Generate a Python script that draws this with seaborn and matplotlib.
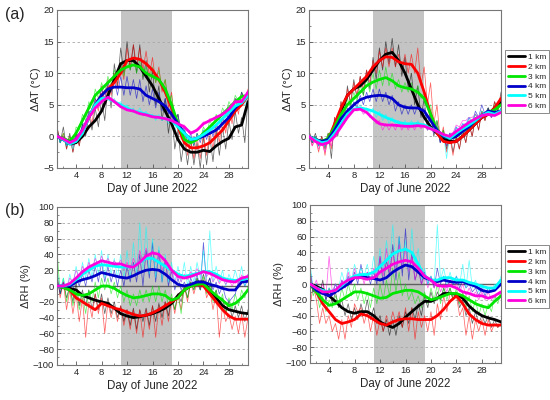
import numpy as np
import pandas as pd
import matplotlib
matplotlib.use('Agg')
import matplotlib.pyplot as plt
import seaborn as sns
from matplotlib.ticker import MultipleLocator
from matplotlib.lines import Line2D

sns.set_style('white')
plt.rcParams['font.family'] = ['Liberation Sans', 'DejaVu Sans']

levels = ['1 km', '2 km', '3 km', '4 km', '5 km', '6 km']
colors = ['#000000', '#ff0000', '#00e600', '#0000c8', '#00ffff', '#ff00dd']
days = list(range(1, 32))
xticks = [4, 8, 12, 16, 20, 24, 28]
shade_start, shade_end = 11, 19

# ---------------- (a) left : delta AT ----------------
atL_1 = [0,-0.5,-1.2,-1,0,1.5,2.5,4,6.5,9,11.5,12,12,11,9.5,8,6,4,2,-0.5,-2,-2.5,-2.5,-2.2,-2.4,-1.5,-0.8,-0.3,1.5,1.8,5.5]
atL_2 = [0,-0.3,-1,-0.5,0.5,3,5,6.5,7.5,8.5,10,12,12.4,12.2,11.5,10.5,9,7,4.5,1.5,-1,-1.8,-1.8,-1.5,-1,0,1,2.5,4,5,6.5]
atL_3 = [0,-0.3,-0.8,0.5,2.5,4.5,6.5,7.5,8.5,9.5,10.5,11,11.3,11,10,9.5,9,7.5,5,2,-0.5,-1,-0.5,0.5,1.5,2.5,3.5,4.5,5.5,6.3,6.5]
atL_4 = [0,-0.5,-1,-0.5,1,3,5,6.5,7.5,7.8,7.8,7.7,7.7,7.5,6.5,6,5.5,4.8,3.5,2,0.5,-0.5,-0.3,0,0.5,1,2,3,4.5,5.5,6.5]
atL_5 = [0,-0.5,-1.2,-0.8,0.5,3,5,6,6,5.5,5,4.5,4,3.8,3.5,3.2,3,2.8,2.5,1.5,0.5,-0.5,-0.3,0.3,1,1.8,2.8,3.8,4.8,5.3,6.5]
atL_6 = [0,-0.4,-1,-0.5,1,3,4.5,5.5,6.2,5.5,4.7,4.2,4,3.6,3.4,3.1,3,2.8,2.5,2,1.5,0.5,1,2,2.5,3,3.5,4.3,5.5,5.5,7]
atL_1r = [1.5,-1,1.5,-2,0.5,-2.5,0.5,-1.5,2,0,3.5,1,4.5,1.5,6,2.5,8,4.5,11.5,8,14,10,15,10.5,14.5,10,14.5,9,12,7,10.5,5,8,2.5,6,0.5,4,-2,1,-4,-0.5,-4.5,-0.5,-4.5,-1,-5,0,-4.5,0,-4,1,-3,1.5,-2,2.5,-0.5,4,0.5,3,-1,6]
atL_2r = [1.5,-1,0.5,-2,0,-2.5,0.5,-1.5,1.5,0.5,4,2,6,4,8,5,9,6.5,10,7.5,11.5,9,14,11,14.5,11,14,10.5,13.5,9.5,12.5,8.5,11,7,9,4.5,7,2,3.5,-0.5,1,-3,-0.5,-3.5,0,-3.5,0.5,-3,1,-2,2,-1,3,0.5,4.5,2,6,3.5,7,5.5,7.5]
atL_3r = [1,-1,0.5,-1.5,0,-1,1.5,1,3.5,2.5,5.5,4,7.5,6,8.5,7,9.5,8,10.5,9,11.5,9.5,12,10.5,12.5,10,12,9.5,11,9,11,8.5,10.5,7.5,9,5.5,6.5,3,3.5,0.5,1,-1.5,0,-1.5,0.5,-0.5,1.5,0.5,2.5,1.5,3.5,2.5,4.5,3.5,5.5,4.5,6.5,5.5,7,6,7]
atL_4r = [1,-1,0,-1.5,-0.5,-1.5,0.5,0,2,2,4,3.5,6,5,7.5,6,8.5,7,9,6.5,9.5,6.5,9.5,6.5,9,6,9,5.5,8,5,7.5,4.5,7,4,6,3.5,5,2,3.5,0.5,1.5,-1,0.5,-1.5,0.5,-1,1,-0.5,1.5,0,2,1,3,2,4,3.5,6,4.5,7,5.5,6.5]
atL_5r = [0.5,-1,0,-1.5,-1,-2,0,-0.5,1,1.5,3.5,3.5,5.5,5,6.5,5.5,6.5,5.5,6,5,5.5,4.5,5,4,4.5,3.5,4.5,3.5,4,3,3.5,2.5,3.5,2.5,3,2,2.5,1,2,0,1,-1,0,-1,0,-0.5,1,0.5,1.5,1,2,2,3,3,4,4,5,4.5,5.5,5,6.5]
atL_6r = [0.3,-0.5,0,-1,-0.8,-1.2,0,-0.5,1.3,1.5,3.3,3.5,4.8,4.5,5.8,5.5,6.5,6,5.8,5,5,4.4,4.5,4,4.3,3.7,3.9,3.3,3.6,3.2,3.3,2.8,3.2,2.7,3,2.5,2.8,2.2,2.3,1.8,1.8,1,0.8,0.5,1.2,1.5,2.3,2.2,2.8,2.7,3.2,3.2,3.8,3.9,4.6,5,5.8,5.2,5.8,6,7.3]

# ---------------- (a) right : delta AT ----------------
atR_1 = [0,-0.5,-0.8,-0.5,1.5,4,6.5,7.5,8,9,10.5,12,13,13.3,12,10,7.5,5,3,1.5,0.5,-0.3,-0.8,-0.8,0,1,2,3,3.5,4.5,5.5]
atR_2 = [0,-0.5,-0.8,-0.5,2,4.5,6.5,7.5,8.5,9.5,11,12,12.6,12.5,11.8,11.5,11.4,10,7,3.5,0.5,-0.8,-1,-0.8,0,1,2,3,3.5,4.5,6]
atR_3 = [0,-0.5,-0.8,-0.3,1.5,3.5,5,6,7,8,8.6,9,9.3,8.8,8,7.7,7.5,7,6,3.5,1,0,-0.3,0,0.8,1.5,2.5,3.3,3.8,4.2,5]
atR_4 = [0,-0.5,-0.8,-0.5,1,2.8,4,5,5.8,6.2,6.4,6.5,6.4,6,5,4.6,4.5,4.5,4,2.5,1,0,-0.3,0,0.8,1.5,2.5,3.3,4,3.8,4]
atR_5 = [0,-0.5,-1,-0.8,0.5,2,3.5,4.3,4.5,4.3,4,3.5,3,2.6,2.2,2,2,2,1.8,1.3,0.8,0.2,-0.3,0.5,1.2,1.8,2.5,3.3,3.8,3.5,4]
atR_6 = [0,-0.8,-1.3,-1,0,1.5,3,4.2,4.3,3.8,2.8,2,1.8,1.8,1.7,1.6,1.6,1.7,1.6,1.2,0.8,0.3,0,0.8,1.5,2.2,2.8,3.3,3.5,3.3,3.8]
atR_1r = [1,-1,0.5,-1.5,0,-2,0.5,-3.5,3,0,5.5,2.5,8,5,9,6,9.5,6.5,10.5,7.5,12.5,9,14,10.5,15,11.5,15.5,11,14.5,9.5,12.5,7.5,10,5,8,3,6,1,4,0,2.5,-1,1,-2,0.5,-2.5,0,-2,1,-1,2,0,3,1,4,2.5,4.5,3,5.5,4,7]
atR_2r = [1,-1.5,0,-2.5,0,-3,0.5,-2,3,1,5.5,3.5,7.5,5.5,8.5,6.5,9.5,7.5,10.5,8.5,12,10,13.5,11,14,11,14,11,13,10.5,13,10,13,10,14,8,11,5,8.5,2,5,-0.5,1.5,-2.5,0,-3,0,-2,1,-1,2,0,3,1,4,2.5,4.5,3,5.5,4,6.5]
atR_3r = [0.5,-1,0,-1.5,-0.5,-1,0.5,0,2.5,1.5,4.5,2.5,6,4.5,7,5.5,8,6.5,9,7,10,7.5,10.5,8,11,8,10,7.5,9,7,8.5,7,8.5,6.5,8,6,7,4.5,5,2,2.5,0,1,-1,0.5,-1,0.5,0,1.5,1,2.5,2,3.5,2.5,4,3.5,4.5,3.5,5,4,5.5]
atR_4r = [0.5,-1,0,-1.5,-0.5,-1.5,0,-0.5,1.5,1,3.5,2,4.5,3.5,5.5,4.5,6.5,5,7,5.5,7.5,5.5,7.5,5.5,7,5,6.5,4,5.5,3.5,5,3.5,5,3.5,5,3.5,4.5,2,3,0.5,1.5,-1,0.5,-1.5,0.5,-1,1.5,0.5,2,1.5,3,2,4,3,5,3.5,4.5,3,4.5,3.5,4.5]
atR_5r = [0.3,-0.8,0,-1.5,-0.5,-1.5,0,-0.3,1,1.5,2.5,3,4,4,5,4.5,5,4,4.5,3.5,4.5,3,4,2.5,3.5,2,3,2,2.5,1.5,2.5,1.5,2.5,1.5,2.5,1.5,2,1,1.5,0.5,1,0,0.5,-3.5,0.5,0.5,1.5,1,2,2,3,2.5,3.5,3,4,3.5,4,3,4,3.5,4.5]
atR_6r = [0.2,-1.5,-0.5,-2,-1,-2.5,-0.5,-1.5,0.5,0.5,2,2,3.5,3.5,4.5,4,4.5,3.5,4,3,3,2,2.5,1,2,1,2,1,2.3,1,2,1,2,1,2.2,1.2,2,1,1.5,0.5,1,0,0.5,-0.5,0.5,0.5,1.8,1.5,2.5,2.5,3,3,3.5,3,3.8,3,3.5,3,3.5,3.5,4]

# ---------------- (b) left : delta RH ----------------
rhL_1 = [0,-2,-3,-5,-12,-15,-18,-20,-22,-28,-35,-38,-40,-39,-37,-35,-32,-28,-22,-12,-5,0,5,5,-5,-15,-25,-30,-32,-34,-35]
rhL_2 = [0,-2,-5,-15,-20,-25,-30,-22,-25,-28,-30,-33,-36,-38,-37,-34,-30,-25,-20,-15,-5,0,2,0,-10,-20,-30,-38,-42,-42,-42]
rhL_3 = [0,-2,-5,-10,-12,-10,-5,0,0,-3,-8,-12,-15,-14,-12,-10,-10,-12,-18,-15,-5,0,2,3,-5,-12,-18,-25,-22,-15,-5]
rhL_4 = [0,0,0,5,8,10,13,17,15,13,11,10,13,17,20,21,20,15,8,2,0,2,5,5,2,0,-3,-5,-5,5,6]
rhL_5 = [0,0,2,8,15,20,25,27,26,25,24,24,25,30,35,35,30,25,20,15,12,14,16,18,18,15,10,8,7,8,10]
rhL_6 = [0,0,3,10,18,24,28,32,30,28,28,25,24,30,38,42,40,32,20,12,10,12,15,18,16,12,8,6,5,10,12]
rhL_1r = [10,-10,5,-15,0,-20,5,-25,-5,-25,-5,-30,-10,-30,-10,-35,-15,-35,-20,-40,-25,-45,-30,-50,-28,-55,-30,-45,-28,-50,-25,-45,-22,-40,-20,-38,-15,-30,-10,-20,0,-15,5,-5,10,0,15,0,10,-15,-5,-25,-15,-35,-20,-40,-25,-40,-25,-45,-30]
rhL_2r = [20,-15,5,-30,-5,-35,-10,-45,-15,-65,-20,-40,-10,-35,-15,-60,-20,-40,-25,-45,-25,-50,-30,-55,-30,-60,-30,-65,-30,-55,-25,-65,-25,-50,-20,-45,-15,-35,-10,-30,0,-20,5,-10,5,-5,8,-15,-5,-30,-10,-65,-25,-45,-35,-55,-38,-60,-35,-65,-40]
rhL_3r = [45,-10,10,-20,0,-25,-5,-30,-10,-35,-5,-20,5,-15,10,-5,10,-10,5,-15,0,-20,-5,-25,-10,-25,-5,-20,-5,-20,0,-20,0,-20,-5,-25,-10,-30,-10,-35,0,-15,5,-5,10,-5,12,-10,5,-20,-5,-25,-10,-35,-15,-30,-10,-25,-5,-15,0]
rhL_4r = [10,-10,5,-5,0,-5,10,0,15,0,20,5,25,5,30,5,25,5,20,0,20,0,25,5,30,5,40,0,45,10,55,5,45,5,35,0,20,-5,10,-5,5,-5,10,0,15,-5,55,0,10,-5,5,-10,0,-15,-20,-15,-10,5,10,0,8]
rhL_5r = [20,-5,10,-5,15,0,25,5,30,10,35,10,40,15,45,10,40,15,35,10,40,10,45,10,55,15,80,20,75,15,60,10,50,5,40,5,30,5,25,5,30,0,25,5,30,10,45,10,70,5,25,5,20,0,15,5,20,5,25,0,15]
rhL_6r = [5,-5,5,-3,10,5,20,10,25,15,30,20,35,25,38,28,35,25,32,25,33,20,30,20,35,25,45,30,48,35,45,30,40,20,30,10,20,5,15,5,15,8,18,12,22,15,20,12,18,5,12,3,10,2,8,0,8,2,14,8,15]

# ---------------- (b) right : delta RH ----------------
rhR_1 = [0,-3,-7,-15,-22,-30,-35,-37,-35,-35,-40,-48,-52,-55,-50,-42,-35,-28,-22,-22,-18,-12,-12,-13,-18,-28,-35,-40,-43,-45,-48]
rhR_2 = [0,-10,-25,-35,-45,-50,-48,-45,-38,-40,-45,-50,-52,-48,-45,-44,-44,-45,-45,-45,-40,-32,-22,-15,-25,-38,-45,-50,-52,-52,-52]
rhR_3 = [0,-10,-20,-27,-25,-20,-15,-10,-10,-12,-15,-18,-17,-12,-10,-8,-8,-10,-15,-20,-18,-15,-12,-12,-15,-20,-25,-28,-30,-22,-15]
rhR_4 = [0,-8,-12,-15,-10,-5,0,8,10,8,7,5,8,15,20,24,22,15,8,5,3,5,3,2,3,0,-3,-8,-10,-8,0]
rhR_5 = [0,-5,-8,-10,-8,-2,5,10,12,12,15,22,30,38,42,44,40,25,10,5,5,8,8,5,5,2,0,-3,-5,-5,5]
rhR_6 = [0,-5,-10,-10,-8,0,5,8,8,6,8,15,20,25,28,30,28,20,10,5,-2,-3,-2,-5,-10,-12,-15,-15,-18,-15,-10]
rhR_1r = [5,-10,0,-15,5,-20,-5,-25,-10,-30,-20,-40,-25,-45,-30,-45,-25,-40,-20,-45,-30,-50,-40,-60,-45,-65,-45,-65,-40,-55,-35,-50,-30,-45,-25,-40,-15,-30,-10,-25,-10,-20,-5,-15,-5,-20,-10,-30,-20,-40,-30,-50,-35,-50,-40,-50,-40,-55,-45,-55,-50]
rhR_2r = [-30,0,-20,-50,-30,-50,-40,-60,-50,-70,-45,-70,-40,-55,-25,-35,-30,-50,-35,-60,-40,-65,-45,-60,-40,-55,-35,-50,-35,-55,-30,-60,-30,-70,-35,-55,-40,-60,-35,-65,-25,-45,-15,-35,-10,-20,-15,-40,-30,-65,-40,-70,-45,-60,-45,-65,-45,-60,-50,-55,-50]
rhR_3r = [20,-15,-5,-30,-15,-35,-20,-30,-15,-25,-5,-20,0,-15,0,-20,-5,-25,-10,-30,-5,-25,0,-20,5,-15,20,-10,15,-15,0,-20,-10,-25,-15,-30,-10,-25,-5,-20,0,-25,-5,-20,-5,-20,-5,-25,-10,-30,-15,-35,-20,-40,-25,-40,-25,-35,-15,-25,-10]
rhR_4r = [20,-10,0,-20,-5,-20,-10,-15,0,-10,5,-5,10,0,15,0,25,5,15,0,15,0,35,0,30,10,50,5,60,10,70,5,40,5,20,0,15,0,10,-5,20,0,10,-5,5,0,10,-5,5,-5,0,-10,-5,-15,-5,-15,-5,-10,-5,-5,5]
rhR_5r = [25,-5,0,-10,-5,-15,-5,-10,0,-5,15,0,20,5,25,10,20,10,25,5,35,10,45,15,55,25,75,20,60,25,55,15,70,20,45,5,20,0,10,0,75,5,20,0,15,0,10,0,25,-5,30,-5,5,-10,0,-10,-5,-10,0,-5,10]
rhR_6r = [15,-5,5,-10,0,-15,35,-10,0,-10,5,-5,15,0,20,5,15,0,15,5,20,5,35,10,45,15,40,15,50,20,45,15,35,5,20,0,10,-5,5,-5,5,-10,0,-10,5,-5,0,-10,0,-15,-5,-15,-10,-20,-10,-20,-10,-20,-15,-20,-10]

W, H = 550, 400
fig = plt.figure(figsize=(W / 100, H / 100), dpi=100)


def add_panel(px_box, smooth, raw, ylim, major, minor, ylabel, grid_vals, zero_line):
    x0, y0, x1, y1 = px_box
    ax = fig.add_axes([x0 / W, 1 - y1 / H, (x1 - x0) / W, (y1 - y0) / H])
    ax.set_facecolor('white')
    ax.axvspan(shade_start, shade_end, color='#c4c4c4', lw=0, zorder=0)
    for g in grid_vals:
        ax.axhline(g, color='#a8a8a8', lw=0.6, ls=(0, (3, 3)), zorder=0.5)
    if zero_line:
        ax.axhline(0, color='#606060', lw=1.0, zorder=0.6)
    raw_df = pd.concat([pd.DataFrame({'day': np.linspace(1, 31, len(r)), 'val': r, 'level': lev})
                        for r, lev in zip(raw, levels)], ignore_index=True)
    sm_df = pd.concat([pd.DataFrame({'day': days, 'val': s, 'level': lev})
                       for s, lev in zip(smooth, levels)], ignore_index=True)
    sns.lineplot(data=raw_df, x='day', y='val', hue='level', palette=colors, hue_order=levels,
                 lw=0.55, alpha=0.6, estimator=None, legend=False, ax=ax, zorder=2)
    sns.lineplot(data=sm_df, x='day', y='val', hue='level', palette=colors, hue_order=levels,
                 lw=2.0, estimator=None, legend=False, ax=ax, zorder=3)
    ax.set_xlim(1, 31)
    ax.set_ylim(*ylim)
    ax.set_xticks(xticks)
    ax.xaxis.set_minor_locator(MultipleLocator(2))
    ax.yaxis.set_major_locator(MultipleLocator(major))
    ax.yaxis.set_minor_locator(MultipleLocator(minor))
    ax.tick_params(which='major', direction='in', length=3, width=0.6, labelsize=6.8,
                   color='#555555', pad=2, bottom=True, left=True)
    ax.tick_params(which='minor', direction='in', length=1.5, width=0.5, color='#555555',
                   bottom=True, left=True)
    for sp in ax.spines.values():
        sp.set_color('#777777')
        sp.set_linewidth(0.8)
    ax.set_xlabel('Day of June 2022', fontsize=8.3, labelpad=2.5)
    ax.set_ylabel(ylabel, fontsize=8, labelpad=1.5)
    return ax


add_panel((57, 10, 248, 168), [atL_1, atL_2, atL_3, atL_4, atL_5, atL_6],
          [atL_1r, atL_2r, atL_3r, atL_4r, atL_5r, atL_6r], (-5, 20), 5, 2.5,
          'ΔAT (°C)', [0, 5, 10, 15], False)
add_panel((309, 10, 501, 168), [atR_1, atR_2, atR_3, atR_4, atR_5, atR_6],
          [atR_1r, atR_2r, atR_3r, atR_4r, atR_5r, atR_6r], (-5, 20), 5, 2.5,
          'ΔAT (°C)', [0, 5, 10, 15], False)
add_panel((57, 207, 248, 365), [rhL_1, rhL_2, rhL_3, rhL_4, rhL_5, rhL_6],
          [rhL_1r, rhL_2r, rhL_3r, rhL_4r, rhL_5r, rhL_6r], (-100, 100), 20, 10,
          'ΔRH (%)', [-80, -60, -40, -20, 20, 40, 60, 80], True)
add_panel((310, 205, 501, 363), [rhR_1, rhR_2, rhR_3, rhR_4, rhR_5, rhR_6],
          [rhR_1r, rhR_2r, rhR_3r, rhR_4r, rhR_5r, rhR_6r], (-100, 100), 20, 10,
          'ΔRH (%)', [-80, -60, -40, -20, 20, 40, 60, 80], True)

handles = [Line2D([], [], color=c, lw=2.0) for c in colors]
for top in (50, 245):
    leg = fig.legend(handles, levels, loc='upper left', bbox_to_anchor=(505 / W, 1 - top / H),
                     fontsize=6, frameon=True, fancybox=False, handlelength=2.0,
                     handletextpad=0.4, borderpad=0.35, labelspacing=0.25, borderaxespad=0)
    leg.get_frame().set_edgecolor('#555555')
    leg.get_frame().set_linewidth(0.6)

fig.text(5 / W, 1 - 15 / H, '(a)', fontsize=11.5, va='center', ha='left')
fig.text(5 / W, 1 - 210 / H, '(b)', fontsize=11.5, va='center', ha='left')

fig.savefig('out.png', dpi=100)
